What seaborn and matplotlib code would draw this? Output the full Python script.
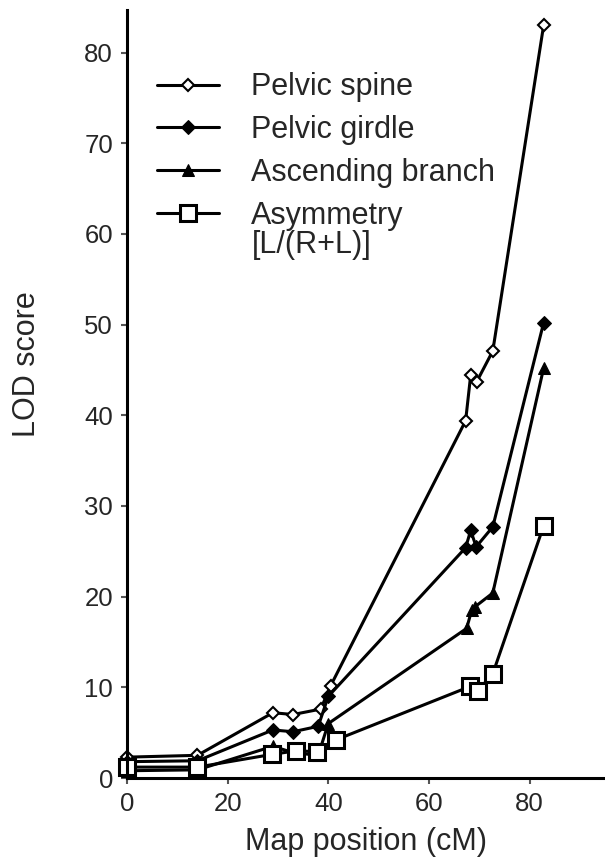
import matplotlib
matplotlib.use("Agg")
import matplotlib.pyplot as plt
import seaborn as sns
import pandas as pd

# ---- data ----
spine_x = [0, 14, 29, 33, 38.5, 40.5, 67.3, 68.3, 69.5, 72.7, 82.8]
spine_y = [2.3, 2.5, 7.2, 7.0, 7.6, 10.2, 39.4, 44.4, 43.7, 47.1, 83.0]
girdle_x = [0, 14, 29, 33, 38, 40, 67.3, 68.3, 69.4, 72.7, 82.8]
girdle_y = [1.8, 1.9, 5.3, 5.1, 5.7, 9.0, 25.4, 27.3, 25.5, 27.7, 50.2]
asc_x = [0, 14, 29, 33, 38, 40, 67.5, 68.5, 69.2, 72.7, 82.8]
asc_y = [0.8, 0.9, 3.5, 2.8, 2.5, 6.0, 16.5, 18.5, 18.9, 20.4, 45.2]
asym_x = [0, 14, 28.8, 33.6, 37.7, 41.5, 68.2, 69.7, 72.7, 82.8]
asym_y = [1.2, 1.2, 2.6, 3.0, 2.9, 4.2, 10.1, 9.6, 11.5, 27.8]
labels = ["Pelvic spine", "Pelvic girdle", "Ascending branch", "Asymmetry"]
label_extra = "[L/(R+L)]"
x_ticks = [0, 20, 40, 60, 80]
y_ticks = [0, 10, 20, 30, 40, 50, 60, 70, 80]

sns.set_theme(style="ticks")
plt.rcParams['font.family'] = ['Liberation Sans', 'DejaVu Sans']

fig = plt.figure(figsize=(6.05, 8.6), dpi=100)
ax = fig.add_axes([127/605, 82/860, 478/605, 768/860])

series = [
    (spine_x, spine_y, labels[0], dict(marker="D", markersize=6.5, markerfacecolor="white", markeredgecolor="black", markeredgewidth=1.5)),
    (girdle_x, girdle_y, labels[1], dict(marker="D", markersize=7, markerfacecolor="black", markeredgecolor="black")),
    (asc_x, asc_y, labels[2], dict(marker="^", markersize=8.5, markerfacecolor="black", markeredgecolor="black")),
    (asym_x, asym_y, labels[3], dict(marker="s", markersize=12, markerfacecolor="white", markeredgecolor="black", markeredgewidth=2.2)),
]
for xs, ys, lab, st in series:
    df = pd.DataFrame({"pos": xs, "lod": ys})
    sns.lineplot(data=df, x="pos", y="lod", sort=False, ax=ax, color="black",
                 linewidth=2.2, label=lab, clip_on=False, **st)

ax.set_xlim(0, 95)
ax.set_ylim(0, 84.7)
ax.set_xticks(x_ticks)
ax.set_yticks(y_ticks)
ax.tick_params(axis="both", labelsize=18.5, length=4, width=1.5, color="#555555", pad=6)
for s in ["top", "right"]:
    ax.spines[s].set_visible(False)
for s in ["left", "bottom"]:
    ax.spines[s].set_linewidth(2.2)
    ax.spines[s].set_color("black")
ax.set_xlabel("Map position (cM)", fontsize=22, labelpad=8)
ax.set_ylabel("LOD score", fontsize=22)
ax.yaxis.set_label_coords(-0.178, 0.539)

leg = ax.legend(loc="upper left", bbox_to_anchor=(0.062, 0.919), frameon=False,
                fontsize=22, handlelength=2.03, handletextpad=1.05, labelspacing=0.42,
                borderaxespad=0, borderpad=0)
ax.text((252 - 127) / 478, (778 - 245) / 768, label_extra, transform=ax.transAxes,
        fontsize=22, ha="left", va="center")

fig.savefig("out.png", dpi=100)
